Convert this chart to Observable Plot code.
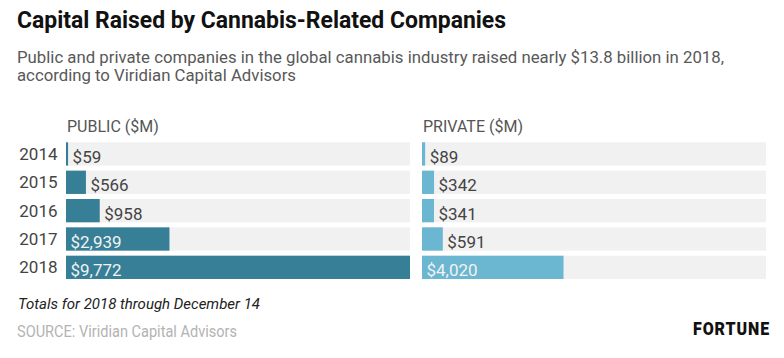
<!DOCTYPE html>
<html>
<head>
<meta charset="utf-8">
<script src="https://cdn.jsdelivr.net/npm/d3@7"></script>
<script src="https://cdn.jsdelivr.net/npm/@observablehq/plot@0.6"></script>
<style>
  html, body { margin: 0; padding: 0; background: #fff; width: 784px; height: 358px; overflow: hidden; }
  body { position: relative; font-family: Roboto, sans-serif; }
  .t { position: absolute; white-space: nowrap; transform-origin: 0 0; line-height: 1; }
  #title { left: 17px; top: 8px; font-size: 24px; font-weight: 700; color: #111; }
  .sub { left: 17px; font-size: 16.5px; color: #585858; }
  #sub1 { top: 50px; }
  #sub2 { top: 67.8px; }
  #note { left: 18px; top: 297.4px; font-size: 15px; font-style: italic; color: #222; }
  #source { left: 17px; top: 323.8px; font-size: 16px; color: #b3b3b3; }
  #brand { left: 693px; top: 319.9px; font-size: 18px; font-weight: 900; color: #111; letter-spacing: 1px; }
  #chart { position: absolute; left: 0; top: 100px; }
</style>
</head>
<body>
<div class="t" id="title" data-w="489">Capital Raised by Cannabis-Related Companies</div>
<div class="t sub" id="sub1" data-w="707">Public and private companies in the global cannabis industry raised nearly $13.8 billion in 2018,</div>
<div class="t sub" id="sub2" data-w="279">according to Viridian Capital Advisors</div>
<div id="chart"></div>
<div class="t" id="note" data-w="242">Totals for 2018 through December 14</div>
<div class="t" id="source" data-w="220">SOURCE: Viridian Capital Advisors</div>
<div class="t" id="brand" data-w="77">FORTUNE</div>
<script>
// ---- data ----
const years = ["2014", "2015", "2016", "2017", "2018"];
const publicValues = [59, 566, 958, 2939, 9772];
const privateValues = [89, 342, 341, 591, 4020];
const panels = ["PUBLIC ($M)", "PRIVATE ($M)"];
const panelColors = ["#367f96", "#6bb6d0"];

const rows = [];
years.forEach((y, i) => {
  rows.push({panel: panels[0], year: y, value: publicValues[i]});
  rows.push({panel: panels[1], year: y, value: privateValues[i]});
});
const xMax = d3.max(rows, d => d.value);
const fmt = d3.format(",");
const isInside = d => d.value > 1500;

const chart = Plot.plot({
  width: 784,
  height: 186,
  marginLeft: 66,
  marginRight: 18,
  marginTop: 37.25,
  marginBottom: 1.95,
  style: {fontFamily: "Roboto, sans-serif", fontSize: "17px", color: "#444", background: "transparent"},
  fx: {domain: panels, axis: null, paddingInner: 12 / 356, paddingOuter: 0, round: false},
  x: {domain: [0, xMax], axis: null},
  y: {domain: years, padding: 0.178, round: false, label: null, tickSize: 0, tickPadding: 9},
  color: {domain: panels, range: panelColors},
  marks: [
    Plot.barX(rows, {fx: "panel", y: "year", x1: 0, x2: () => xMax, fill: "#f1f1f1"}),
    Plot.barX(rows, {fx: "panel", y: "year", x: "value", fill: "panel"}),
    Plot.text(rows, {
      fx: "panel", y: "year",
      x: d => isInside(d) ? 0 : d.value,
      text: d => "$" + fmt(d.value),
      textAnchor: "start", dx: 4, dy: 3,
      fill: d => isInside(d) ? "#f2f2f2" : "#444",
      fontSize: 17
    }),
    Plot.text(panels, {
      fx: d => d, text: d => d,
      frameAnchor: "top-left", lineAnchor: "bottom",
      dx: 0.5, dy: -5.5, fill: "#555", fontSize: 16, letterSpacing: "0.6px"
    })
  ]
});
document.getElementById("chart").appendChild(chart);

// fit condensed-looking header/footer text to the reference widths
document.querySelectorAll(".t[data-w]").forEach(el => {
  const w = el.getBoundingClientRect().width;
  const target = +el.dataset.w;
  el.style.transform = `scaleX(${target / w})`;
});
</script>
</body>
</html>
